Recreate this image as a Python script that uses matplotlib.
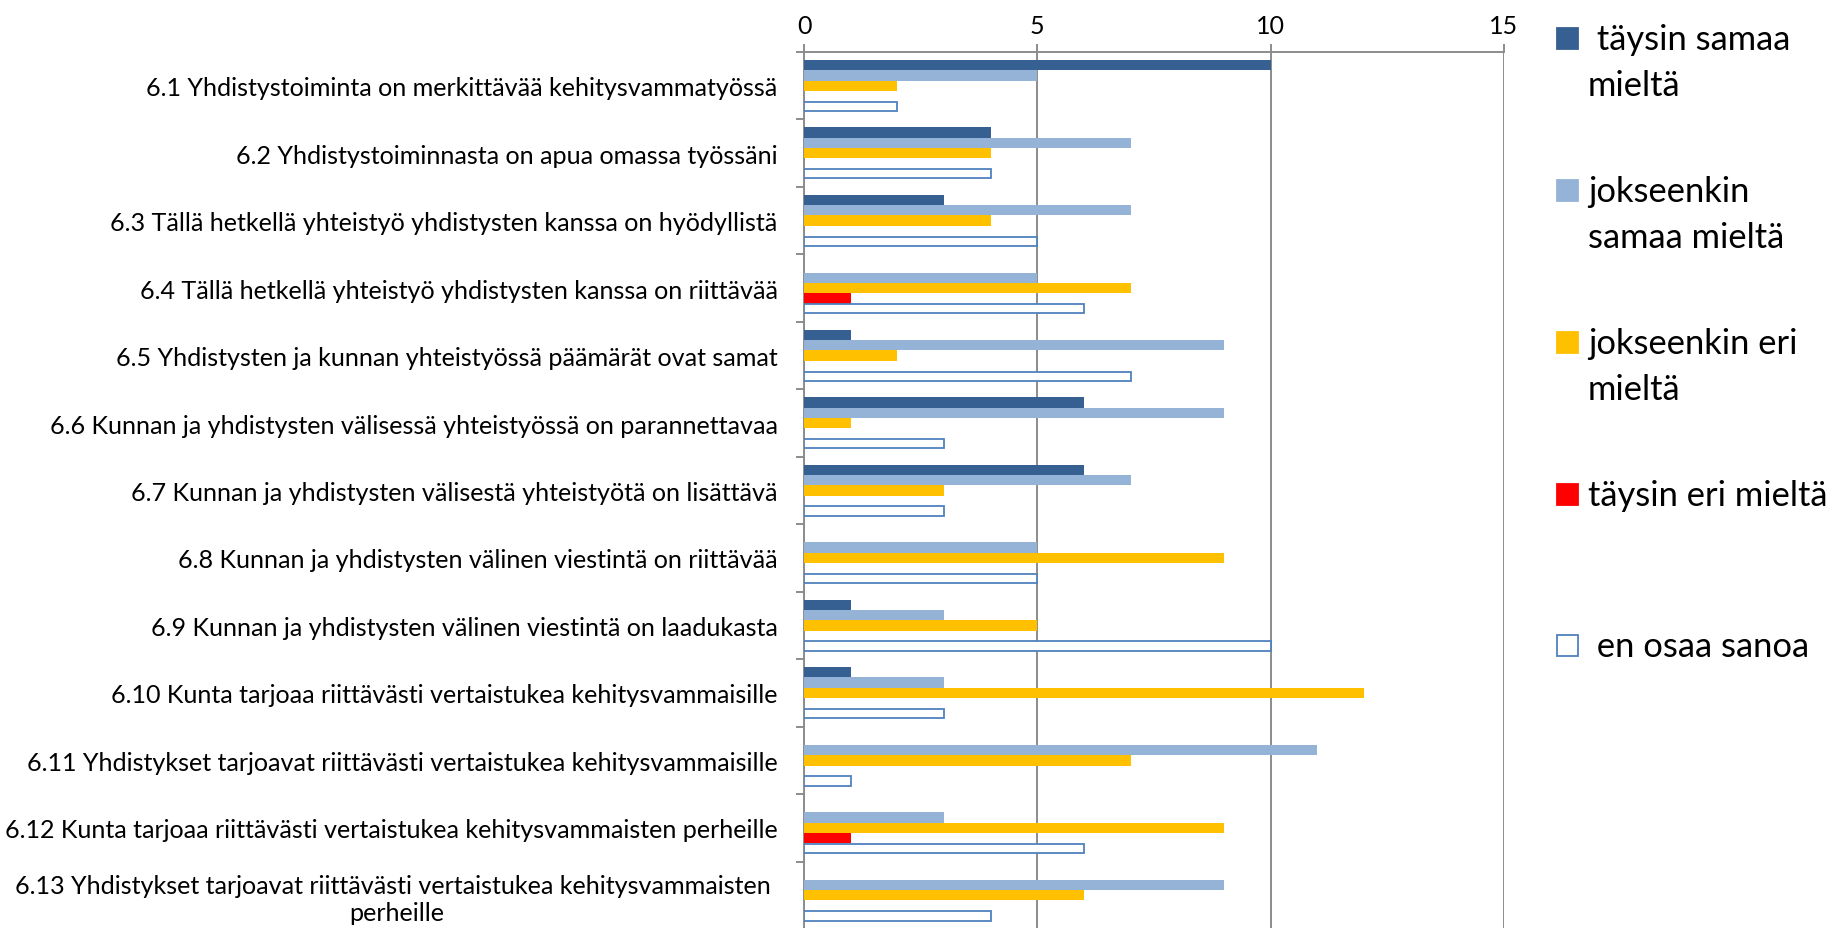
import numpy as np
import matplotlib
matplotlib.use("Agg")
import matplotlib.pyplot as plt
from matplotlib.patches import Rectangle

plt.rcParams["font.family"] = ["Lato", "DejaVu Sans"]

categories = [
    "6.1 Yhdistystoiminta on merkittävää kehitysvammatyössä",
    "6.2 Yhdistystoiminnasta on apua omassa työssäni",
    "6.3 Tällä hetkellä yhteistyö yhdistysten kanssa on hyödyllistä",
    "6.4 Tällä hetkellä yhteistyö yhdistysten kanssa on riittävää",
    "6.5 Yhdistysten ja kunnan yhteistyössä päämärät ovat samat",
    "6.6 Kunnan ja yhdistysten välisessä yhteistyössä on parannettavaa",
    "6.7 Kunnan ja yhdistysten välisestä yhteistyötä on lisättävä",
    "6.8 Kunnan ja yhdistysten välinen viestintä on riittävää",
    "6.9 Kunnan ja yhdistysten välinen viestintä on laadukasta",
    "6.10 Kunta tarjoaa riittävästi vertaistukea kehitysvammaisille",
    "6.11 Yhdistykset tarjoavat riittävästi vertaistukea kehitysvammaisille",
    "6.12 Kunta tarjoaa riittävästi vertaistukea kehitysvammaisten perheille",
    "6.13 Yhdistykset tarjoavat riittävästi vertaistukea kehitysvammaisten \nperheille",
]

series_names = [
    [" täysin samaa", "mieltä"],
    ["jokseenkin", "samaa mieltä"],
    ["jokseenkin eri", "mieltä"],
    ["täysin eri mieltä"],
    [" en osaa sanoa"],
]

taysin_samaa = [10, 4, 3, 0, 1, 6, 6, 0, 1, 1, 0, 0, 0]
jokseenkin_samaa = [5, 7, 7, 5, 9, 9, 7, 5, 3, 3, 11, 3, 9]
jokseenkin_eri = [2, 4, 4, 7, 2, 1, 3, 9, 5, 12, 7, 9, 6]
taysin_eri = [0, 0, 0, 1, 0, 0, 0, 0, 0, 0, 0, 1, 0]
en_osaa = [2, 4, 5, 6, 7, 3, 3, 5, 10, 3, 1, 6, 4]

values = [taysin_samaa, jokseenkin_samaa, jokseenkin_eri, taysin_eri, en_osaa]
faces = ["#376092", "#95b3d7", "#ffc000", "#ff0000", "white"]
edges = ["#376092", "#95b3d7", "#ffc000", "#ff0000", "#4f81bd"]

W, H = 1843, 929
fig = plt.figure(figsize=(W / 100, H / 100), dpi=100)
ax = fig.add_axes([804 / W, -1 / H, 700 / W, 1 - 52 / H])

grey = "#8c8c8c"
y = np.arange(len(categories))
h = 0.153
for i, vals in enumerate(values):
    vals = np.array(vals, dtype=float)
    pos = y + (i - 2) * h
    if i == 4:
        ax.barh(pos, vals, height=h * 0.9, color=faces[i], edgecolor=edges[i],
                linewidth=1.3, zorder=3)
    else:
        mask = vals > 0
        ax.barh(pos[mask], vals[mask], height=h, color=faces[i], linewidth=0,
                zorder=3)

ax.set_xlim(0, 15)
ax.set_ylim(len(categories) - 0.5, -0.5)
ax.xaxis.tick_top()
ax.set_xticks([0, 5, 10, 15])
ax.tick_params(axis="x", which="major", length=5.8, width=1.4, color=grey,
               labelsize=18, pad=5)
ax.grid(axis="x", color=grey, linewidth=1.4, zorder=1)

ax.set_yticks(y)
ax.set_yticklabels(categories, fontsize=18.1)
for lab in ax.get_yticklabels():
    lab.set_multialignment("center")
ax.set_yticks(np.arange(-0.5, len(categories), 1.0), minor=True)
ax.tick_params(axis="y", which="major", length=0, pad=19)
ax.tick_params(axis="y", which="minor", length=5.8, width=1.4, color=grey)

for s in ["right", "bottom"]:
    ax.spines[s].set_visible(False)
for s in ["top", "left"]:
    ax.spines[s].set_color(grey)
    ax.spines[s].set_linewidth(1.4)

# legend drawn by hand so that the wrapped labels sit like the original
centers = [40, 192, 344, 496, 647]
for i, c in enumerate(centers):
    fig.add_artist(Rectangle(((1557) / W, 1 - (c + 10) / H), 21 / W, 21 / H,
                             transform=fig.transFigure, facecolor=faces[i],
                             edgecolor=edges[i], linewidth=1.3))
    for k, line in enumerate(series_names[i]):
        fig.text(1588 / W, 1 - (c + 10 + 46 * k) / H, line, fontsize=24.8,
                 ha="left", va="baseline")

fig.savefig("out.png", dpi=100)
